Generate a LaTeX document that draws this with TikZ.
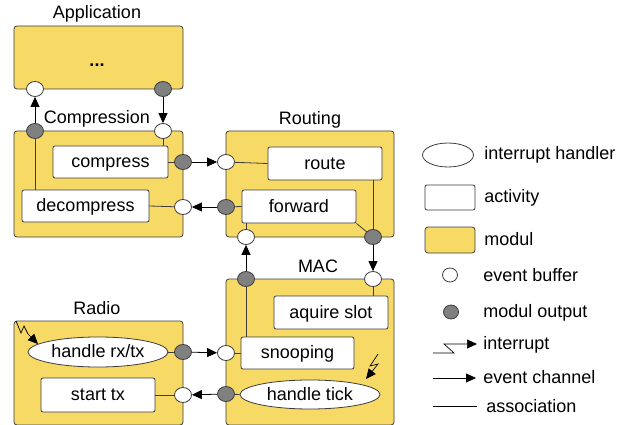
\documentclass[tikz,border=0pt]{standalone}
\usepackage{fontspec}
\setmainfont{Liberation Sans}
\usetikzlibrary{shapes.geometric,arrows.meta,calc}
\definecolor{modyellow}{RGB}{247,217,102}
\definecolor{outgray}{RGB}{128,128,128}
\definecolor{edgegray}{RGB}{60,60,60}
\begin{document}
\begin{tikzpicture}[x=1pt,y=-1pt,
  font=\fontsize{18}{21}\selectfont,
  line width=0.8pt,
  modul/.style={draw=edgegray,fill=modyellow,rounded corners=3pt,inner sep=0pt},
  activity/.style={draw=edgegray,fill=white,rounded corners=2pt,inner sep=0pt,text height=13.5pt,text depth=2.5pt},
  handler/.style={ellipse,draw=edgegray,fill=white,inner sep=0pt,text height=13.5pt,text depth=2.5pt},
  buffer/.style={ellipse,draw=edgegray,fill=white,minimum width=17pt,minimum height=15pt,inner sep=0pt},
  outport/.style={ellipse,draw=edgegray,fill=outgray,minimum width=17pt,minimum height=15pt,inner sep=0pt},
  channel/.style={-{Triangle[length=10pt,width=9pt]}},
  assoc/.style={draw=edgegray},
  title/.style={inner sep=0pt,text height=12.5pt,text depth=3.5pt},
  legendtext/.style={anchor=west,inner sep=0pt,text height=13pt,text depth=3pt}]
\useasboundingbox (0,0) rectangle (624,425);

% modules
\node[modul,minimum width=169pt,minimum height=63pt] (app) at (98.5,57.5) {};
\node[modul,minimum width=169pt,minimum height=106pt] (cmp) at (98.5,184) {};
\node[modul,minimum width=168pt,minimum height=106pt] (rt) at (310,184) {};
\node[modul,minimum width=168pt,minimum height=146pt] (mac) at (310,352) {};
\node[modul,minimum width=169pt,minimum height=104pt] (rad) at (98.5,373) {};

% module titles
\node[title] (appT) at (97,14) {Application};
\node[title] (cmpT) at (97,119) {Compression};
\node[title] (rtT) at (310,120) {Routing};
\node[title] (macT) at (318,268) {MAC};
\node[title] (radT) at (97,310) {Radio};
\node[title] (dots) at (97,62) {\textbf{...}};

% activities and interrupt handlers
\node[activity,minimum width=115pt,minimum height=32pt] (compress) at (110.5,162) {compress};
\node[activity,minimum width=127pt,minimum height=32pt] (decompress) at (85.5,206) {decompress};
\node[activity,minimum width=114pt,minimum height=33pt] (route) at (325,163.5) {route};
\node[activity,minimum width=114pt,minimum height=33pt] (forward) at (299,206.5) {forward};
\node[activity,minimum width=114pt,minimum height=33pt] (aquire) at (331,312.5) {aquire slot};
\node[activity,minimum width=113pt,minimum height=32pt] (snoop) at (297.5,353) {snooping};
\node[activity,minimum width=114pt,minimum height=34pt] (starttx) at (98,395) {start tx};
\node[handler,minimum width=140pt,minimum height=30pt] (rxtx) at (98,352) {handle rx/tx};
\node[handler,minimum width=140pt,minimum height=29pt] (tick) at (310,394.5) {handle tick};

% associations inside modules
\draw[assoc] (163,131) -- (163,146);
\draw[assoc] (35,131) -- (35,190);
\draw[assoc] (compress.east) -- (183,162);
\draw[assoc] (decompress.east) -- (183,207);
\draw[assoc] (route.west) -- (226,162);
\draw[assoc] (forward.west) -- (226,207);
\draw[assoc] (246,237) -- (246,223);
\draw[assoc] (373,180) -- (373,237);
\draw[assoc] (forward.south east) -- (373,237);
\draw[assoc] (373,279) -- (373,296);
\draw[assoc] (246,279) -- (246,337);
\draw[assoc] (snoop.west) -- (226,353);
\draw[assoc] (tick.west) -- (226,394);
\draw[assoc] (rxtx.east) -- (183,352);
\draw[assoc] (starttx.east) -- (183,395);

% event buffers and module outputs
\node[buffer] (appIn) at (35,89) {};
\node[outport] (appOut) at (163,89) {};
\node[outport] (cmpOut) at (35,131) {};
\node[buffer] (cmpIn) at (163,131) {};
\node[outport] (cmpOut2) at (183,162) {};
\node[buffer] (cmpIn2) at (183,207) {};
\node[buffer] (rtIn) at (226,162) {};
\node[outport] (rtOut) at (226,207) {};
\node[buffer] (rtIn2) at (246,237) {};
\node[outport] (rtOut2) at (373,237) {};
\node[outport] (macOut) at (246,279) {};
\node[buffer] (macIn) at (373,279) {};
\node[buffer] (macIn2) at (226,353) {};
\node[outport] (macOut2) at (226,394) {};
\node[outport] (radOut) at (183,352) {};
\node[buffer] (radIn) at (183,395) {};

% event channels
\draw[channel] (cmpOut) -- (appIn);
\draw[channel] (appOut) -- (cmpIn);
\draw[channel] (cmpOut2) -- (rtIn);
\draw[channel] (rtOut) -- (cmpIn2);
\draw[channel] (macOut) -- (rtIn2);
\draw[channel] (rtOut2) -- (macIn);
\draw[channel] (radOut) -- (macIn2);
\draw[channel] (macOut2) -- (radIn);

% interrupts
\coordinate (radZ) at (16,321);
\draw[channel,line width=0.7pt] (radZ) -- (21,333) -- (24,326) -- (28,334) -- (38,344);
\coordinate (tickZ) at (378,354);
\draw[channel,line width=0.7pt] (tickZ) -- (370,366) -- (378,364) -- (366,379);

% legend
\node[handler,minimum width=51pt,minimum height=24pt] (lgH) at (448,155) {};
\node[legendtext] (lgHt) at (484,155) {interrupt handler};
\node[activity,minimum width=50pt,minimum height=25pt] (lgA) at (450,197.5) {};
\node[legendtext] (lgAt) at (484,197) {activity};
\node[modul,minimum width=50pt,minimum height=26pt] (lgM) at (450,240) {};
\node[legendtext] (lgMt) at (484,240) {modul};
\node[buffer,minimum width=15pt,minimum height=14pt] (lgB) at (450,275) {};
\node[legendtext] (lgBt) at (483,276) {event buffer};
\node[outport,minimum width=15pt,minimum height=14pt] (lgO) at (451,312) {};
\node[legendtext] (lgOt) at (483,312) {modul output};
\coordinate (lgI0) at (433,353);
\coordinate (lgI1) at (477,344);
\draw[channel,line width=0.7pt] (lgI0) -- (454,353) -- (444,344) -- (lgI1);
\node[legendtext] (lgIt) at (483,344) {interrupt};
\coordinate (lgE0) at (433,378);
\coordinate (lgE1) at (476,378);
\draw[channel] (lgE0) -- (lgE1);
\node[legendtext] (lgEt) at (483,378) {event channel};
\coordinate (lgS0) at (433,406);
\coordinate (lgS1) at (477,406);
\draw (lgS0) -- (lgS1);
\node[legendtext] (lgSt) at (486,407) {association};
\end{tikzpicture}
\end{document}
